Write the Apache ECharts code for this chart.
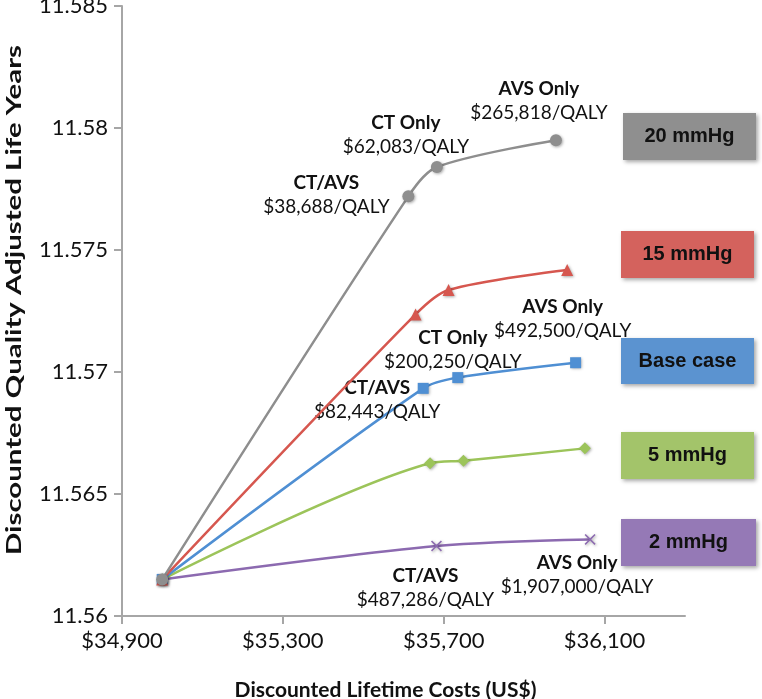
<!DOCTYPE html>
<html><head><meta charset="utf-8">
<script src="https://cdn.jsdelivr.net/npm/echarts@6/dist/echarts.min.js"></script>
<style>html,body{margin:0;padding:0;background:#fff}#c{width:762px;height:699px}</style>
</head><body><div id="c"></div>
<script>
// ---- data ----
const xTicks = [34900, 35300, 35700, 36100];
const yTicks = [11.56, 11.565, 11.57, 11.575, 11.58, 11.585];
const seriesNames = ['20 mmHg', '15 mmHg', 'Base case', '5 mmHg', '2 mmHg'];
const xTitle = 'Discounted Lifetime Costs (US$)';
const yTitle = 'Discounted Quality Adjusted Life Years';

const x20 = [35000, 35612, 35683, 35979];
const y20 = [11.5615, 11.5772, 11.5784, 11.5795];
const x15 = [35000, 35630, 35712, 36007];
const y15 = [11.5615, 11.57236, 11.57336, 11.57418];
const xBase = [35000, 35649, 35735, 36028];
const yBase = [11.5615, 11.56933, 11.56977, 11.57038];
const x5 = [35000, 35666, 35749, 36051];
const y5 = [11.5615, 11.56626, 11.56636, 11.56687];
const x2 = [35000, 35682, 36064];
const y2 = [11.5615, 11.56287, 11.56314];

const strat20 = ['', 'CT/AVS', 'CT Only', 'AVS Only'];
const icer20 = ['', '$38,688/QALY', '$62,083/QALY', '$265,818/QALY'];
const stratBase = ['', 'CT/AVS', 'CT Only', 'AVS Only'];
const icerBase = ['', '$82,443/QALY', '$200,250/QALY', '$492,500/QALY'];
const strat2 = ['', 'CT/AVS', 'AVS Only'];
const icer2 = ['', '$487,286/QALY', '$1,907,000/QALY'];

// ---- layout / style (not data) ----
const off20 = [null, [-82, -1], [-31, -32], [-17, -39]];
const offBase = [null, [-46, 12], [-5, -28], [-13, -44]];
const off2 = [null, [-11, 42], [-13, 35]];
const colors = ['#8e8e8e', '#d6574f', '#4f8fd3', '#9cc45a', '#8c6ab0'];
const boxColors = ['#8f8f8f', '#d4625d', '#5b93d0', '#a3c46a', '#9579b6'];
const boxRects = [[623, 113, 133, 47], [621, 231, 133, 47], [621, 338, 133, 46], [621, 432, 133, 47], [621, 519, 135, 47]];
const FONT = 'Lato';
const crossPath = 'path://M1,0 L5,4 L9,0 L10,1 L6,5 L10,9 L9,10 L5,6 L1,10 L0,9 L4,5 L0,1 Z';
const symbols = ['circle', 'triangle', 'rect', 'diamond', crossPath];
const symSizes = [12, 12, 11, 12, 11];

function buildData(xs, ys, strats, icers, offs) {
  return xs.map((x, i) => {
    const item = { value: [x, ys[i]] };
    if (strats && strats[i]) {
      item.label = {
        show: true,
        position: 'inside',
        offset: offs[i],
        color: '#111',
        align: 'center',
        verticalAlign: 'middle',
        formatter: '{b|' + strats[i] + '}\n{n|' + icers[i] + '}',
        rich: {
          b: { fontFamily: FONT, fontWeight: 'bold', fontSize: 19, lineHeight: 24, color: '#111', align: 'center' },
          n: { fontFamily: FONT, fontSize: 19, lineHeight: 24, color: '#111', align: 'center' }
        }
      };
    }
    return item;
  });
}

const datasets = [
  buildData(x20, y20, strat20, icer20, off20),
  buildData(x15, y15),
  buildData(xBase, yBase, stratBase, icerBase, offBase),
  buildData(x5, y5),
  buildData(x2, y2, strat2, icer2, off2)
];

const series = datasets.map((d, k) => ({
  name: seriesNames[k],
  type: 'line',
  smooth: 0.3,
  data: d,
  symbol: symbols[k],
  symbolSize: symSizes[k],
  z: 10 - k,
  lineStyle: { color: colors[k], width: 2.5 },
  itemStyle: { color: colors[k], shadowColor: 'rgba(0,0,0,0.35)', shadowBlur: 3, shadowOffsetX: 1, shadowOffsetY: 1 },
  emphasis: { disabled: true },
  animation: false
}));

const graphic = [];
boxRects.forEach((r, k) => {
  graphic.push({
    type: 'rect',
    shape: { x: r[0], y: r[1], width: r[2], height: r[3] },
    style: { fill: boxColors[k], shadowColor: 'rgba(0,0,0,0.35)', shadowBlur: 4, shadowOffsetX: 2, shadowOffsetY: 2 },
    z: 5
  });
  graphic.push({
    type: 'text',
    x: r[0] + r[2] / 2,
    y: r[1] + r[3] / 2,
    style: { text: seriesNames[k], fill: '#111', font: 'bold 20px "Liberation Sans", Arial, sans-serif', align: 'center', verticalAlign: 'middle' },
    z: 6
  });
});
// y-axis title (stretched along its length like the reference)
graphic.push({
  type: 'text',
  x: 15, y: 300,
  rotation: Math.PI / 2,
  scaleX: 1.47,
  style: { text: yTitle, fill: '#111', font: 'bold 20px Lato', align: 'center', verticalAlign: 'middle' },
  z: 6
});

const chart = echarts.init(document.getElementById('c'));
chart.setOption({
  animation: false,
  backgroundColor: '#fff',
  grid: { left: 122, right: 77, top: 6, bottom: 83, containLabel: false, outerBoundsMode: 'none' },
  xAxis: {
    type: 'value',
    min: 34900, max: 36300, interval: 100,
    name: xTitle,
    nameLocation: 'middle',
    nameGap: 64,
    nameTextStyle: { fontFamily: FONT, fontWeight: 'bold', fontSize: 21, color: '#111', padding: [0, 36, 0, 0] },
    axisLine: { lineStyle: { color: '#a6a6a6', width: 2 } },
    axisTick: { show: true, length: 8, lineStyle: { color: '#a6a6a6', width: 2 }, customValues: xTicks },
    axisLabel: {
      customValues: xTicks,
      fontFamily: FONT, fontSize: 22, color: '#111', margin: 14,
      formatter: v => '$' + Number(v).toLocaleString('en-US')
    },
    splitLine: { show: false }
  },
  yAxis: {
    type: 'value',
    min: 11.56, max: 11.585, interval: 0.005,
    axisLine: { show: true, lineStyle: { color: '#a6a6a6', width: 2 } },
    axisTick: { show: true, length: 8, lineStyle: { color: '#a6a6a6', width: 2 }, customValues: yTicks },
    axisLabel: {
      customValues: yTicks,
      fontFamily: FONT, fontSize: 22, color: '#111', margin: 14,
      formatter: v => Number(v).toFixed(3).replace(/0+$/, '')
    },
    splitLine: { show: false }
  },
  series: series,
  graphic: graphic
});
</script></body></html>
